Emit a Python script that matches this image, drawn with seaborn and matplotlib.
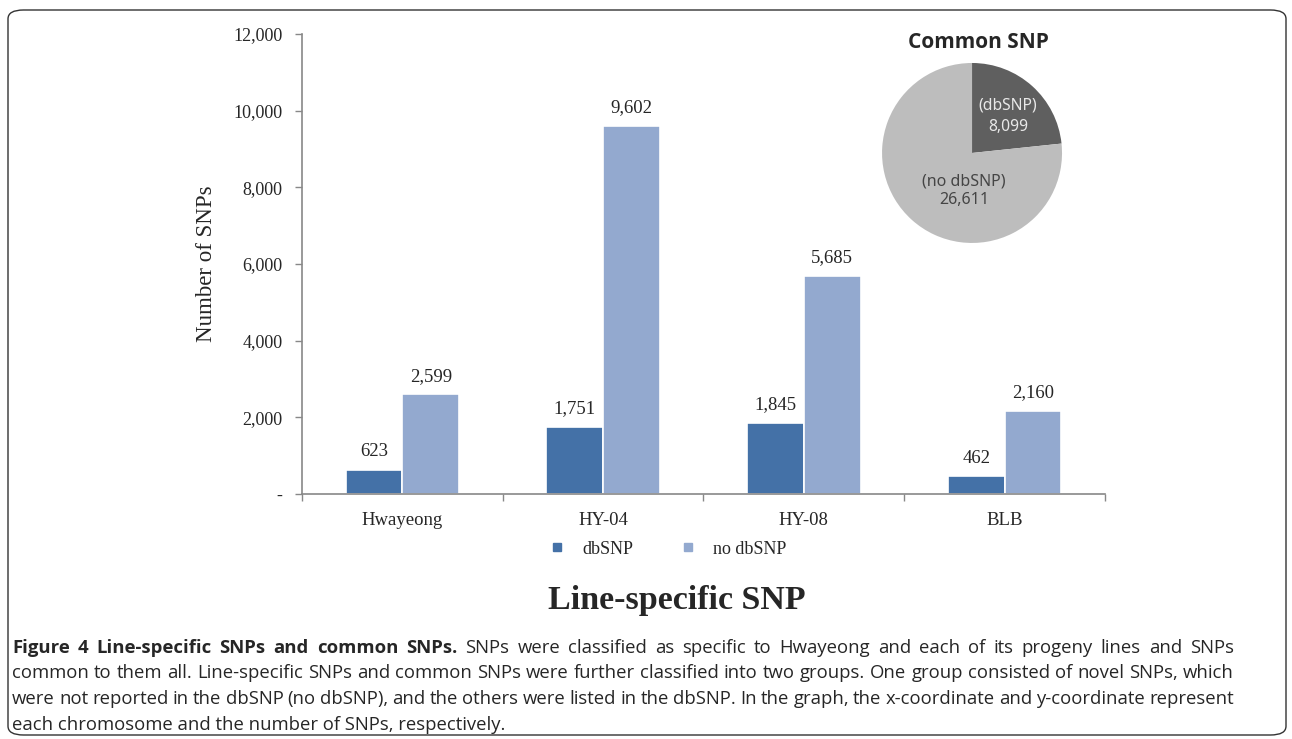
#!/usr/bin/env python3
"""Line-specific SNPs and common SNPs (Figure 4)."""

import matplotlib
matplotlib.use("Agg")
import matplotlib.pyplot as plt
import matplotlib.ticker as mticker
from matplotlib.lines import Line2D
from matplotlib.patches import FancyBboxPatch
import pandas as pd
import seaborn as sns

LINES = ["Hwayeong", "HY-04", "HY-08", "BLB"]
DBSNP = [623, 1751, 1845, 462]
NO_DBSNP = [2599, 9602, 5685, 2160]
SERIES = ["dbSNP", "no dbSNP"]
COMMON_LABELS = ["(dbSNP)", "(no dbSNP)"]
COMMON_VALUES = [8099, 26611]
Y_TICKS = [0, 2000, 4000, 6000, 8000, 10000, 12000]

BAR_COLORS = ["#4471a7", "#93a9cf"]
PIE_COLORS = ["#5f5f5f", "#bdbdbd"]

CAPTION_BOLD = "Figure 4 Line-specific SNPs and common SNPs."
CAPTION_LINES = [
    "SNPs were classified as specific to Hwayeong and each of its progeny lines and SNPs",
    "common to them all. Line-specific SNPs and common SNPs were further classified into two groups. One group consisted of novel SNPs, which",
    "were not reported in the dbSNP (no dbSNP), and the others were listed in the dbSNP. In the graph, the x-coordinate and y-coordinate represent",
    "each chromosome and the number of SNPs, respectively.",
]

sns.set_style("white")
plt.rcParams["font.family"] = ["Liberation Serif", "DejaVu Serif"]

df = pd.DataFrame({
    "line": LINES * 2,
    "series": [SERIES[0]] * len(LINES) + [SERIES[1]] * len(LINES),
    "count": DBSNP + NO_DBSNP,
})

fig = plt.figure(figsize=(12.92, 7.39), dpi=100)
ax = fig.add_axes([0.2337, 0.3315, 0.6216, 0.6225])

sns.barplot(data=df, x="line", y="count", hue="series", order=LINES,
            hue_order=SERIES, palette=BAR_COLORS, saturation=1,
            width=0.565, gap=0.0, edgecolor="white", linewidth=1.2,
            ax=ax, legend=False)

for cont in ax.containers:
    ax.bar_label(cont, labels=[f"{v:,.0f}" for v in cont.datavalues],
                 padding=7, fontsize=13.5)

ax.set_ylim(0, 12000)
ax.set_xlim(-0.5, len(LINES) - 0.5)
ax.set_yticks(Y_TICKS)
ax.yaxis.set_major_formatter(mticker.FuncFormatter(
    lambda v, _: "-" if v == 0 else f"{v:,.0f}"))
ax.set_xticks([i - 0.5 for i in range(len(LINES) + 1)], minor=False)
ax.set_xticklabels([])
ax.set_xticks(range(len(LINES)), minor=True)
ax.set_xticklabels(LINES, minor=True, fontsize=13.5)
ax.tick_params(axis="x", which="major", length=5, width=1, color="#888888",
               direction="out", bottom=True)
ax.tick_params(axis="x", which="minor", length=0, pad=13)
ax.tick_params(axis="y", length=5, width=1, color="#888888", direction="out",
               left=True, labelsize=13, pad=9)
ax.set_xlabel("")
ax.set_ylabel("Number of SNPs", fontsize=16.5, labelpad=12)
for side in ("top", "right"):
    ax.spines[side].set_visible(False)
for side in ("left", "bottom"):
    ax.spines[side].set_color("#888888")
    ax.spines[side].set_linewidth(1.2)

handles = [Line2D([], [], marker="s", linestyle="", markersize=5.5,
                  color=c) for c in BAR_COLORS]
fig.legend(handles, SERIES, loc="center", bbox_to_anchor=(0.513, 0.257),
           ncol=2, frameon=False, fontsize=13, handletextpad=0.4,
           columnspacing=2.0)

fig.text(677 / 1292, 1 - 600 / 739, "Line-specific SNP", ha="center",
         va="center", fontsize=24.5, fontweight="bold")

# common SNP pie
pax = fig.add_axes([0.6827, 0.6712, 0.1393, 0.2436])
pax.pie(COMMON_VALUES, colors=PIE_COLORS, startangle=90,
        counterclock=False, radius=1.0, wedgeprops={"linewidth": 0})
pax.set_xlim(-1, 1)
pax.set_ylim(-1, 1)
pax.set_aspect("equal")
pie_font = ["Noto Sans", "DejaVu Sans"]
pax.text(0.40, 0.41, f"{COMMON_LABELS[0]}\n{COMMON_VALUES[0]:,}",
         ha="center", va="center", fontsize=11.3, color="#e8e8e8",
         family=pie_font, linespacing=1.45)
pax.text(-0.09, -0.42, f"{COMMON_LABELS[1]}\n{COMMON_VALUES[1]:,}",
         ha="center", va="center", fontsize=11.5, color="#454545",
         family=pie_font, linespacing=1.2)
fig.text(0.757, 1 - 42 / 739, "Common SNP", ha="center", va="center",
         fontsize=15, fontweight="bold",
         family=["Open Sans", "DejaVu Sans"])

# caption, justified like the journal layout
cap_font = ["Open Sans", "Noto Sans", "DejaVu Sans"]
left_px, right_px = 12, 1234
ys = [1 - 648 / 739, 1 - 673.5 / 739, 1 - 699 / 739, 1 - 724.5 / 739]
renderer = fig.canvas.get_renderer()


def justify_words(words, y):
    texts = [fig.text(0, y, word, ha="left", va="center", fontsize=13.3,
                      fontweight=weight, family=cap_font)
             for word, weight in words]
    widths = [t.get_window_extent(renderer=renderer).width for t in texts]
    sp = (right_px - left_px - sum(widths)) / (len(words) - 1)
    x = left_px
    for t, w in zip(texts, widths):
        t.set_x(x / fig.bbox.width)
        x += w + sp


first = [(w, "bold") for w in CAPTION_BOLD.split()]
first += [(w, "normal") for w in CAPTION_LINES[0].split()]
justify_words(first, ys[0])
for y, line in zip(ys[1:-1], CAPTION_LINES[1:-1]):
    justify_words([(w, "normal") for w in line.split()], y)
fig.text(left_px / 1292, ys[-1], CAPTION_LINES[-1], ha="left", va="center",
         fontsize=13.3, family=cap_font)

frame = FancyBboxPatch((8 / 1292, 4 / 739), 1278 / 1292, 725 / 739,
                       boxstyle="round,pad=0,rounding_size=0.012",
                       transform=fig.transFigure, fill=False,
                       edgecolor="#333333", linewidth=1.0)
fig.patches.append(frame)

fig.savefig("out.png", dpi=100)
